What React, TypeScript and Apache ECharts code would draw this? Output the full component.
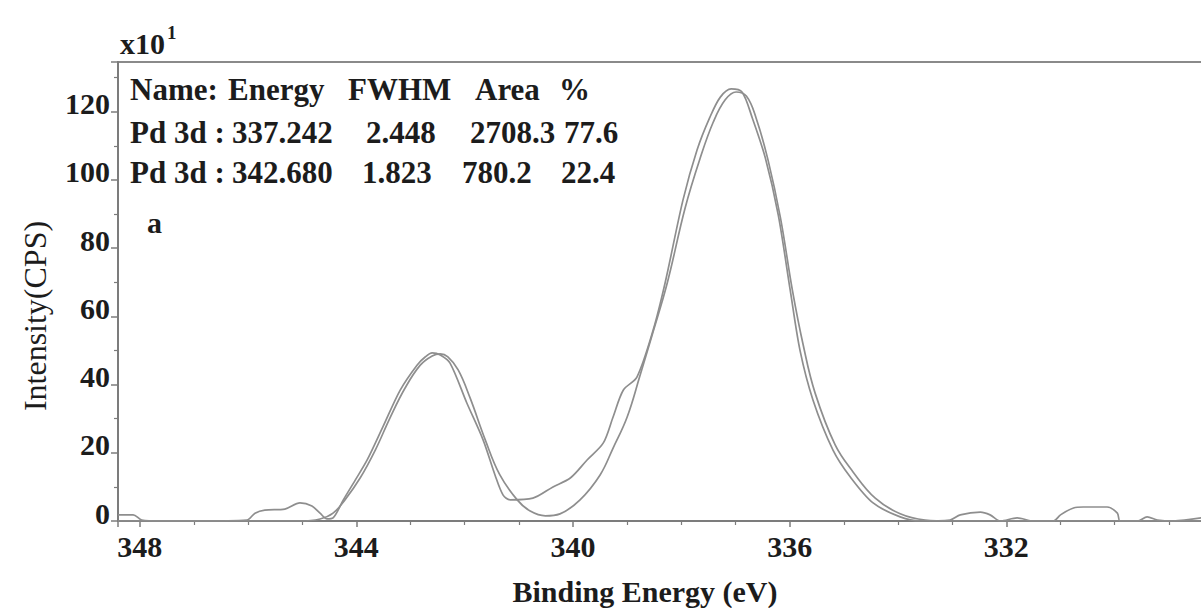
import { useEffect, useRef } from 'react';
import * as echarts from 'echarts';

// Pd 3d XPS spectrum: measured counts (x10 CPS) against binding energy (eV)
const rawSpectrum: [number, number][] = [
  [348.4, 1.8], [348.12, 1.8], [347.96, 0.3], [347.62, 0], [346.89, 0], [346.02, 0.3],
  [345.87, 2.3], [345.69, 3.2], [345.32, 3.5], [345.04, 5.3], [344.82, 4.4], [344.67, 2.3],
  [344.54, 0.6], [344.43, 0.9], [344.24, 6.2], [344.02, 12.0], [343.8, 17.9], [343.51, 27.6],
  [343.19, 38.4], [342.88, 45.7], [342.73, 48.1], [342.6, 49.3], [342.45, 48.7], [342.27, 46.3],
  [341.96, 34.6], [341.66, 23.8], [341.44, 13.5], [341.29, 7.6], [341.16, 6.2], [340.74, 6.7],
  [340.37, 10.0], [340.05, 12.6], [339.74, 17.9], [339.44, 22.9], [339.26, 30.5], [339.07, 38.4],
  [338.82, 42.2], [338.52, 56.0], [338.3, 69.8], [337.97, 94.1], [337.71, 108.8], [337.47, 118.5],
  [337.28, 124.3], [337.08, 126.7], [336.88, 125.8], [336.69, 118.2], [336.45, 106.5], [336.21, 89.7],
  [335.99, 67.7], [335.81, 50.1], [335.57, 35.5], [335.2, 20.8], [334.88, 12.9], [334.46, 5.3],
  [333.96, 1.2], [333.59, 0], [333.04, 0.3], [332.85, 1.8], [332.48, 2.6], [332.3, 1.8],
  [332.11, 0], [331.8, 0.9], [331.5, 0], [331.13, 0], [331.0, 1.8], [330.76, 3.8],
  [330.58, 4.1], [330.14, 4.1], [329.95, 2.3], [329.9, 0], [329.58, 0], [329.4, 1.2],
  [329.21, 0.3], [328.92, 0], [328.4, 0.9],
];

// Fitted envelope of the two Pd 3d components
const fitSpectrum: [number, number][] = [
  [348.4, 0], [345.04, 0], [344.67, 0.6], [344.43, 2.3], [344.21, 6.2], [343.93, 12.6],
  [343.65, 20.8], [343.38, 30.2], [343.1, 39.0], [342.82, 45.7], [342.6, 48.4], [342.45, 49.0],
  [342.31, 48.1], [342.12, 44.3], [341.9, 36.1], [341.62, 23.8], [341.35, 13.5], [341.03, 6.2],
  [340.79, 2.9], [340.51, 1.5], [340.24, 2.1], [339.87, 6.2], [339.5, 13.5], [339.26, 21.4],
  [339.0, 30.5], [338.76, 42.8], [338.54, 54.5], [338.26, 69.8], [337.93, 91.8], [337.65, 106.5],
  [337.41, 117.0], [337.19, 123.5], [336.99, 125.8], [336.8, 124.6], [336.62, 118.2], [336.4, 105.9],
  [336.17, 88.9], [335.95, 67.7], [335.75, 51.6], [335.53, 37.5], [335.16, 22.3], [334.83, 14.4],
  [334.42, 6.7], [333.96, 2.1], [333.5, 0.3], [333.04, 0], [328.4, 0],
];

// Fit table
const tableHeader = ['Name:', 'Energy', 'FWHM', 'Area', '%'];
const peakRows = [
  ['Pd 3d :', '337.242', '2.448', '2708.3', '77.6'],
  ['Pd 3d :', '342.680', '1.823', '780.2', '22.4'],
];

const SERIF = '"Liberation Serif", "Times New Roman", serif';
const INK = '#1c1c1c';
const AXIS = '#7c7c7c';
const CURVE = '#8e8e8e';

// left edges of the table columns, per row, and each row's vertical centre
const rowLayout = [
  { y: 89, xs: [130, 228, 348, 475, 559] },
  { y: 132, xs: [130, 232, 366, 470, 564] },
  { y: 172, xs: [130, 232, 362, 462, 561] },
];

function tableGraphics() {
  const rows = [tableHeader, ...peakRows];
  const out: any[] = [];
  rows.forEach((cells, r) => {
    cells.forEach((t, c) => {
      out.push({
        type: 'text',
        x: rowLayout[r].xs[c],
        y: rowLayout[r].y,
        silent: true,
        style: {
          text: t,
          font: `bold 31px ${SERIF}`,
          fill: INK,
          verticalAlign: 'middle',
          align: 'left',
        },
      });
    });
  });
  return out;
}

const isMultiple = (v: number, step: number) => Math.abs(v / step - Math.round(v / step)) < 1e-6;

export default function App() {
  const ref = useRef<HTMLDivElement>(null);

  useEffect(() => {
    if (!ref.current) return;
    const chart = echarts.init(ref.current, null, { renderer: 'svg' });
    const labelStyle = {
      fontFamily: SERIF,
      fontSize: 30,
      fontWeight: 'bold' as const,
      color: INK,
    };
    chart.setOption({
      animation: false,
      backgroundColor: '#ffffff',
      grid: {
        left: 118,
        top: 62,
        width: 1105,
        height: 459,
        containLabel: false,
        outerBoundsMode: 'none',
        show: true,
        borderColor: '#8a8a8a',
        borderWidth: 2,
        backgroundColor: 'transparent',
      },
      xAxis: {
        type: 'value',
        min: 328,
        max: 348.4,
        interval: 4,
        inverse: true,
        axisLine: { show: true, lineStyle: { color: AXIS, width: 2 } },
        axisTick: { show: true, length: 6, lineStyle: { color: AXIS, width: 1.5 } },
        minorTick: { show: true, splitNumber: 4, length: 4, lineStyle: { color: AXIS, width: 1.2 } },
        splitLine: { show: false },
        axisLabel: {
          ...labelStyle,
          margin: 10,
          // the 328 tick sits past the right edge of the page, so it gets no label
          formatter: (v: number) => (isMultiple(v, 4) && v > 330 ? String(Math.round(v)) : ''),
        },
      },
      yAxis: {
        type: 'value',
        min: 0,
        max: 134.6,
        interval: 20,
        axisLine: { show: true, lineStyle: { color: AXIS, width: 2 } },
        axisTick: { show: true, length: 7, lineStyle: { color: AXIS, width: 1.5 } },
        minorTick: { show: true, splitNumber: 2, length: 4, lineStyle: { color: AXIS, width: 1.2 } },
        splitLine: { show: false },
        axisLabel: {
          ...labelStyle,
          margin: 8,
          verticalAlign: 'bottom',
          padding: [0, 0, -7, 0],
          formatter: (v: number) => (isMultiple(v, 20) ? String(Math.round(v)) : ''),
        },
      },
      series: [
        {
          name: 'Measured',
          type: 'line',
          data: rawSpectrum,
          showSymbol: false,
          smooth: 0.3,
          silent: true,
          lineStyle: { color: CURVE, width: 1.7 },
        },
        {
          name: 'Fit',
          type: 'line',
          data: fitSpectrum,
          showSymbol: false,
          smooth: 0.4,
          silent: true,
          lineStyle: { color: CURVE, width: 1.7 },
        },
      ],
      graphic: [
        {
          type: 'text',
          x: 120,
          y: 43,
          silent: true,
          style: { text: 'x10', font: `bold 30px ${SERIF}`, fill: INK, verticalAlign: 'middle' },
        },
        {
          type: 'text',
          x: 167,
          y: 32,
          silent: true,
          style: { text: '1', font: `bold 19px ${SERIF}`, fill: INK, verticalAlign: 'middle' },
        },
        ...tableGraphics(),
        {
          type: 'text',
          x: 147,
          y: 222,
          silent: true,
          style: { text: 'a', font: `bold 30px ${SERIF}`, fill: INK, verticalAlign: 'middle' },
        },
        {
          type: 'text',
          x: 35,
          y: 316,
          rotation: Math.PI / 2,
          silent: true,
          style: {
            text: 'Intensity(CPS)',
            font: `32px ${SERIF}`,
            fill: INK,
            align: 'center',
            verticalAlign: 'middle',
          },
        },
        {
          type: 'text',
          x: 645,
          y: 591,
          silent: true,
          style: {
            text: 'Binding Energy (eV)',
            font: `bold 30px ${SERIF}`,
            fill: INK,
            align: 'center',
            verticalAlign: 'middle',
          },
        },
      ],
    });
    return () => chart.dispose();
  }, []);

  return (
    <div
      ref={ref}
      style={{ position: 'fixed', left: 0, top: 0, width: 1201, height: 608, background: '#fff' }}
    />
  );
}
